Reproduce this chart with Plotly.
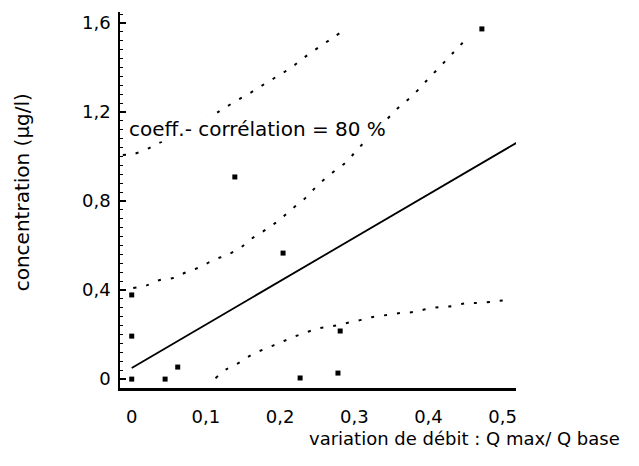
import plotly.graph_objects as go

# Measured samples: flow variation vs concentration
flow_ratio = [0.0, 0.0, 0.0, 0.045, 0.062, 0.139, 0.204, 0.227, 0.278, 0.281, 0.472]
concentration = [0.378, 0.193, 0.0, 0.0, 0.054, 0.908, 0.566, 0.005, 0.027, 0.216, 1.573]

# Linear regression line
reg_x = [0.0, 0.52]
reg_y = [0.05, 1.064]

# Upper outer band
top_x = [-0.012, 0.002, 0.021, 0.037, 0.074, 0.110, 0.127, 0.145, 0.162, 0.181, 0.199, 0.216, 0.232, 0.251, 0.271, 0.289]
top_y = [1.007, 1.011, 1.034, 1.061, 1.125, 1.187, 1.222, 1.258, 1.290, 1.330, 1.366, 1.402, 1.443, 1.488, 1.533, 1.573]

# Upper inner band
up_x = [0.002, 0.021, 0.038, 0.056, 0.074, 0.092, 0.110, 0.128, 0.146, 0.163, 0.182, 0.199, 0.216, 0.234, 0.251,
        0.270, 0.289, 0.306, 0.333, 0.359, 0.378, 0.397, 0.414, 0.433, 0.451]
up_y = [0.409, 0.422, 0.445, 0.454, 0.481, 0.503, 0.535, 0.557, 0.589, 0.634, 0.674, 0.715, 0.764, 0.813, 0.872,
        0.926, 0.975, 1.038, 1.128, 1.218, 1.272, 1.339, 1.398, 1.465, 1.528]

# Lower band
low_x = [0.113, 0.128, 0.146, 0.163, 0.182, 0.199, 0.218, 0.236, 0.254, 0.271, 0.290, 0.308, 0.325, 0.344,
         0.362, 0.379, 0.398, 0.416, 0.433, 0.452, 0.469, 0.504]
low_y = [0.004, 0.045, 0.076, 0.112, 0.139, 0.162, 0.189, 0.211, 0.229, 0.238, 0.252, 0.265, 0.279, 0.288,
         0.297, 0.301, 0.315, 0.324, 0.328, 0.342, 0.342, 0.355]

y_ticks = [0, 0.4, 0.8, 1.2, 1.6]
x_ticks = [0, 0.1, 0.2, 0.3, 0.4, 0.5]

FONT = "DejaVu Sans"
dotted = dict(color="black", width=2, dash="3px,10px", shape="spline")

fig = go.Figure()
for bx, by in [(top_x, top_y), (up_x, up_y), (low_x, low_y)]:
    fig.add_trace(go.Scatter(x=bx, y=by, mode="lines", line=dotted, hoverinfo="skip"))

fig.add_trace(go.Scatter(x=reg_x, y=reg_y, mode="lines",
                         line=dict(color="black", width=1.8)))

fig.add_trace(go.Scatter(x=flow_ratio, y=concentration, mode="markers",
                         marker=dict(symbol="square", size=5, color="black")))

fig.add_annotation(x=-0.005, y=1.124, xref="x", yref="y", xanchor="left", yanchor="middle",
                   text="coeff.- corrélation = 80 %", showarrow=False,
                   font=dict(family=FONT, size=20, color="black"),
                   bgcolor="white", borderpad=0)

fig.add_annotation(x=1.268, y=-0.133, xref="paper", yref="paper", xanchor="right", yanchor="middle",
                   text="variation de débit : Q max/ Q base", showarrow=False,
                   font=dict(family=FONT, size=18, color="black"))

fig.add_annotation(x=-0.247, y=0.521, xref="paper", yref="paper", xanchor="center", yanchor="middle",
                   text="concentration (µg/l)", textangle=-90, showarrow=False,
                   font=dict(family=FONT, size=20, color="black"))

fig.update_layout(
    width=639, height=466,
    margin=dict(l=120, r=123, t=12, b=78),
    paper_bgcolor="white", plot_bgcolor="white",
    showlegend=False,
    separators=", ",
    font=dict(family=FONT, size=18, color="black"),
)

fig.update_xaxes(range=[-0.0158, 0.518], tickvals=x_ticks, showgrid=False, zeroline=False,
                 showline=True, linecolor="black", linewidth=2.5, ticks="",
                 ticklabelstandoff=11, tickfont=dict(size=18))
fig.update_yaxes(range=[-0.040, 1.649], tickvals=y_ticks, showgrid=False, zeroline=False,
                 showline=True, linecolor="black", linewidth=1.5,
                 ticks="inside", ticklen=6, tickwidth=1.5, tickcolor="black",
                 minor=dict(ticks="inside", ticklen=3, tickwidth=1, tickcolor="black", dtick=0.04),
                 ticklabelstandoff=4, tickfont=dict(size=18))

fig.write_html("out.html")
